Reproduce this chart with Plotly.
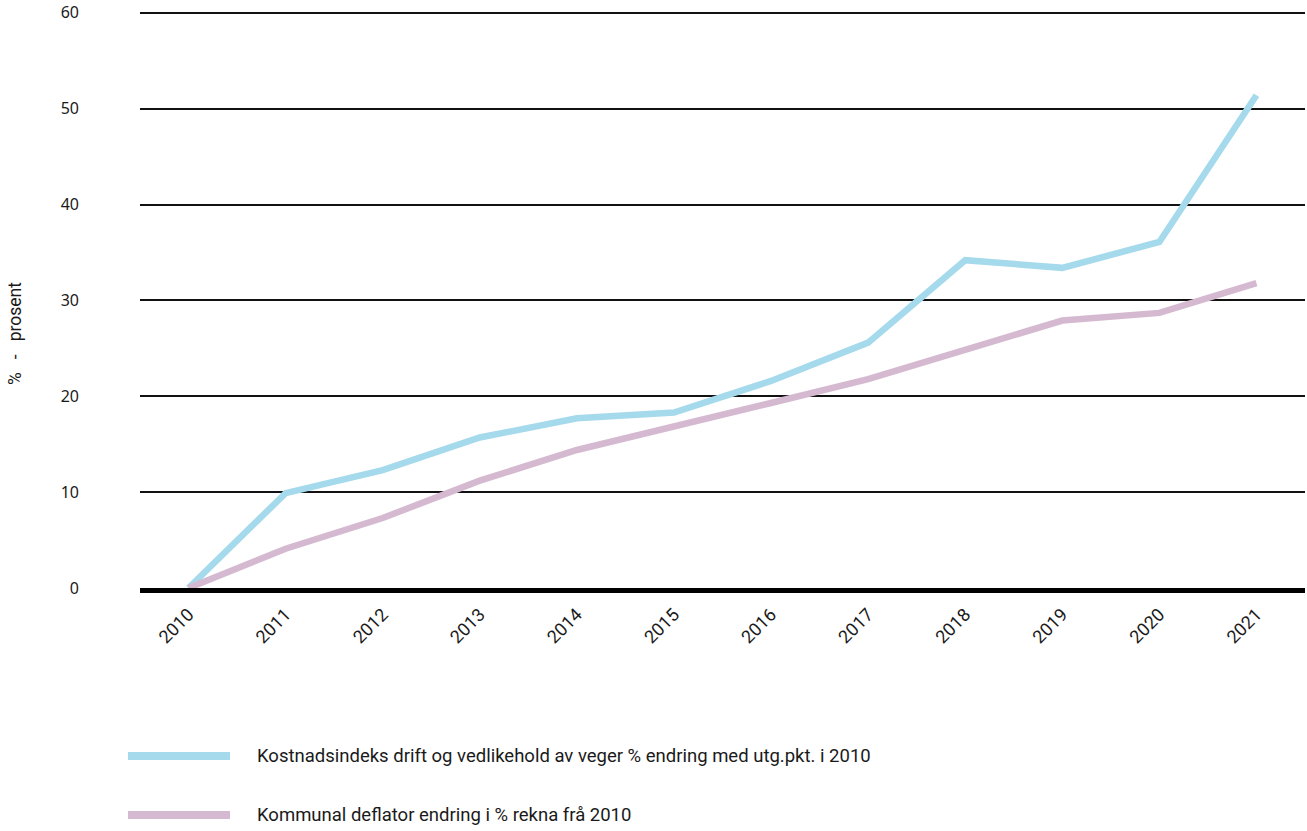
import plotly.graph_objects as go

years = ["2010", "2011", "2012", "2013", "2014", "2015",
         "2016", "2017", "2018", "2019", "2020", "2021"]
kostnadsindeks = [0, 9.9, 12.3, 15.7, 17.7, 18.3, 21.6, 25.6, 34.2, 33.4, 36.1, 51.4]
deflator = [0, 4.1, 7.3, 11.2, 14.4, 16.8, 19.3, 21.8, 24.8, 27.9, 28.7, 31.8]

names = [
    "Kostnadsindeks drift og vedlikehold av veger % endring med utg.pkt. i 2010",
    "Kommunal deflator endring i % rekna frå 2010",
]
colors = ["#a5d9ec", "#d5b9d1"]
series = [kostnadsindeks, deflator]

W, H = 1307, 831
ML, MR, MT, MB = 140, 2, 10, 243
PW, PH = W - ML - MR, H - MT - MB


def px_x(x):
    return (x - ML) / PW


def px_y(y):
    return (H - MB - y) / PH


fig = go.Figure()
for name, vals, col in zip(names, series, colors):
    fig.add_trace(go.Scatter(
        x=years, y=vals, name=name, mode="lines",
        line=dict(color=col, width=6.5), showlegend=False,
    ))

# legend built from swatches and labels under the plot
legend_y = [756, 815]
for name, col, py in zip(names, colors, legend_y):
    fig.add_shape(type="line", xref="paper", yref="paper",
                  x0=px_x(128), x1=px_x(230), y0=px_y(py), y1=px_y(py),
                  line=dict(color=col, width=8))
    fig.add_annotation(text=name, xref="paper", yref="paper",
                       x=px_x(255), y=px_y(py),
                       xanchor="left", yanchor="middle", showarrow=False,
                       font=dict(family="Roboto", size=18.5, color="#1a1a1a"))

fig.add_annotation(text="%\u00a0\u00a0\u00a0-\u00a0\u00a0\u00a0prosent", xref="paper", yref="paper",
                   x=px_x(15), y=px_y(334),
                   xanchor="center", yanchor="middle", textangle=-90,
                   showarrow=False,
                   font=dict(family="Roboto", size=17.5, color="#1a1a1a"))

fig.update_layout(
    width=W, height=H,
    margin=dict(l=ML, r=MR, t=MT, b=MB),
    plot_bgcolor="white", paper_bgcolor="white",
    xaxis=dict(
        type="category", range=[-0.5, 11.5], showgrid=False, zeroline=False,
        showline=True, linecolor="black", linewidth=5,
        layer="above traces", tickangle=-45, ticks="",
        tickfont=dict(family="Roboto", size=18, color="#1a1a1a"),
        ticklabelstandoff=4,
    ),
    yaxis=dict(
        range=[0, 60.3], tickvals=[0, 10, 20, 30, 40, 50, 60], showgrid=True,
        gridcolor="#111111", gridwidth=1.5, zeroline=False,
        showline=False, ticks="",
        ticklabelstandoff=60,
        tickfont=dict(family="Noto Sans", size=16, color="#1a1a1a"),
    ),
)

fig.write_html("out.html")
